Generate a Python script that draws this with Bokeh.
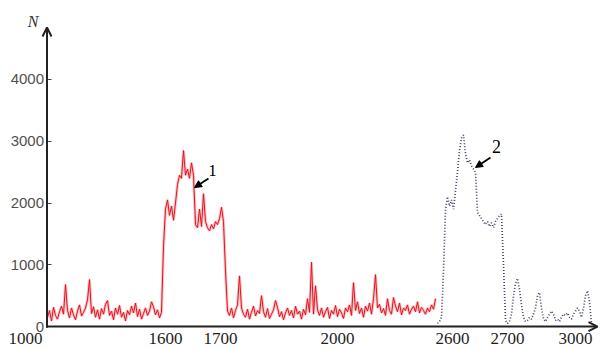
from bokeh.plotting import figure
from bokeh.models import (Range1d, LinearAxis, FixedTicker, Arrow, OpenHead,
                          NormalHead, Label)
from bokeh.embed import file_html
from bokeh.resources import INLINE
import numpy as np

# ---------------- data ----------------
x_tick_labels = ["1000", "1600", "1700", "2000", "2600", "2700", "3000"]
x_tick_pos = [25, 165, 220, 337, 452, 507, 575]   # display positions (broken axis)
y_ticks = [0, 1000, 2000, 3000, 4000]

# spectrum 1 (solid red), left to right
red_counts = [
    150, 260, 90, 310, 180, 120, 240, 330, 200, 680,
    260, 140, 300, 190, 110, 250, 350, 170, 230, 300,
    430, 760, 210, 320, 150, 270, 120, 290, 200, 360,
    420, 180, 250, 110, 300, 200, 340, 150, 230, 90,
    260, 190, 330, 220, 380, 160, 280, 120, 210, 300,
    180, 250, 400, 320, 190, 270, 140, 230,
    1300, 1900, 2050, 1800, 1950, 1720, 2000, 2300, 2450, 2400,
    2850, 2450, 2550, 2400, 2650, 2450, 1650, 1600, 1900, 1620,
    2150, 1700, 1600, 1550, 1650, 1580, 1700, 1650, 1750, 1930,
    1700,
    900, 250, 180, 300, 140, 260, 350, 820, 300, 200, 150,
    280, 120, 230, 330, 170, 260, 210, 500, 240, 150,
    290, 130, 200, 270, 420, 310, 160, 240, 110, 220,
    300, 180, 260, 140, 330, 200, 250, 120, 280, 190,
    450, 230, 1040, 200, 660, 270, 180, 300, 150, 240,
    310, 130, 260, 200, 340, 160, 280, 220, 130, 300,
    240, 350, 180, 710, 260, 400, 210, 300, 150, 330,
    250, 380, 200, 450, 840, 300, 360, 220, 290, 180,
    450, 260, 200, 470, 330, 240, 380, 190, 300, 260,
    350, 200, 280, 330, 240, 400, 220, 310, 260, 200,
    300, 240, 350, 280, 450,
]

# spectrum 2 (dotted purple), left to right
purple_counts = [
    50, 80, 150, 900, 1900, 2100, 1950, 2050, 1900, 2200,
    2500, 2850, 3050, 3100, 2800, 2650, 2700, 2600, 2550, 2500,
    1850, 1800, 1750, 1700, 1650, 1700, 1620, 1680, 1600, 1700,
    1750, 1800, 1820, 1000, 100, 50, 80, 200, 500, 700,
    780, 600, 350, 150, 80, 100, 150, 120, 200, 300,
    500, 550, 300, 120, 80, 150, 200, 250, 200, 100,
    120, 80, 150, 200, 180, 220, 150, 120, 200, 250,
    300, 250, 150, 300, 500, 580, 400, 50,
]

red_x = np.linspace(47, 435, len(red_counts))
purple_x = np.linspace(437, 591, len(purple_counts))

# ---------------- figure ----------------
W, H = 601, 349
p = figure(width=W, height=H, output_backend="svg", toolbar_location=None,
           x_range=Range1d(0, 601), y_range=Range1d(-372, 5279),
           x_axis_type=None, y_axis_type=None,
           min_border_left=0, min_border_right=0,
           min_border_top=0, min_border_bottom=0)
p.outline_line_color = None
p.background_fill_color = "white"
p.border_fill_color = "white"

SERIF = "'Liberation Serif', 'Times New Roman', serif"

# x axis (fixed at N = 0)
xaxis = LinearAxis(fixed_location=0, ticker=FixedTicker(ticks=x_tick_pos),
                   major_label_overrides={t: l for t, l in zip(x_tick_pos, x_tick_labels)})
xaxis.axis_line_color = None
xaxis.major_tick_in = 0
xaxis.major_tick_out = 0
xaxis.minor_tick_line_color = None
xaxis.major_label_standoff = 6
xaxis.major_label_text_font = SERIF
xaxis.major_label_text_font_size = "17px"
xaxis.major_label_text_color = "#1e1e1e"
p.add_layout(xaxis, "below")

# y axis
yaxis = LinearAxis(fixed_location=46.5, ticker=FixedTicker(ticks=y_ticks))
yaxis.axis_line_color = None
yaxis.major_tick_in = 4
yaxis.major_tick_out = 0
yaxis.major_tick_line_color = "#444444"
yaxis.minor_tick_line_color = None
yaxis.major_label_standoff = 3
yaxis.major_label_text_font = "Liberation Sans"
yaxis.major_label_text_font_size = "15px"
yaxis.major_label_text_color = "#505050"
p.add_layout(yaxis, "left")

# axis arrows
p.add_layout(Arrow(end=OpenHead(size=9, line_width=2, line_color="#222222"),
                   x_start=46.5, y_start=-20, x_end=46.5, y_end=4842,
                   line_width=2, line_color="#222222"))
p.add_layout(Arrow(end=OpenHead(size=9, line_width=2, line_color="#222222"),
                   x_start=45.5, y_start=0, x_end=597, y_end=0,
                   line_width=2, line_color="#222222"))

# series
p.line(red_x, red_counts, line_color="#f27a85", line_width=3, line_alpha=0.45)
p.line(red_x, red_counts, line_color="#e3121b", line_width=1)
p.line(purple_x, purple_counts, line_color="#4e3f66", line_width=1.7, line_dash="1 2")

# labels
p.add_layout(Label(x=32.5, y=4947, text="N", text_font=SERIF,
                   text_font_style="italic", text_font_size="16px",
                   text_align="center", text_baseline="middle", text_color="#333333"))
p.add_layout(Label(x=212, y=2526, text="1", text_font=SERIF,
                   text_font_size="17px", text_align="center",
                   text_baseline="middle", text_color="black"))
p.add_layout(Label(x=496, y=2915, text="2", text_font=SERIF,
                   text_font_size="18px", text_align="center",
                   text_baseline="middle", text_color="black"))
p.add_layout(Arrow(end=NormalHead(size=7, fill_color="black", line_color="black"),
                   x_start=208, y_start=2396, x_end=194, y_end=2251,
                   line_width=1.8, line_color="black"))
p.add_layout(Arrow(end=NormalHead(size=7, fill_color="black", line_color="black"),
                   x_start=490, y_start=2737, x_end=475, y_end=2575,
                   line_width=1.8, line_color="black"))

open("out.html", "w").write(file_html(p, INLINE))
